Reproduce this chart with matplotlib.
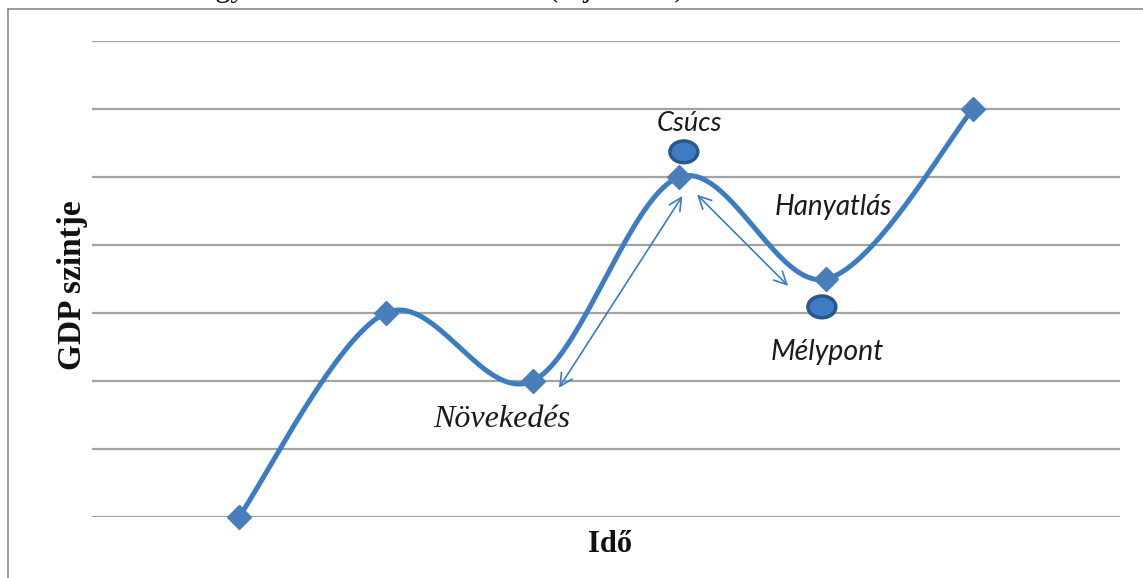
import matplotlib
matplotlib.use("Agg")
import matplotlib.pyplot as plt
from matplotlib.patches import Ellipse
from matplotlib.lines import Line2D
import numpy as np

# ---- data ----
periods = [1, 2, 3, 4, 5, 6]
gdp_level = [0, 3, 2, 5, 3.5, 6]
y_ticks = [0, 1, 2, 3, 4, 5, 6, 7]
x_label = "Idő"
y_label = "GDP szintje"
lbl_peak = "Csúcs"
lbl_decline = "Hanyatlás"
lbl_trough = "Mélypont"
lbl_growth = "Növekedés"

LINE = "#3c7cc2"
MARK = "#4a7ebb"

W, H = 1143, 578
fig = plt.figure(figsize=(W / 100, H / 100), dpi=100)

def fx(px):
    return px / W

def fy(py):
    return 1 - py / H

ax = fig.add_axes([fx(92), fy(517), fx(1120) - fx(92), fy(41) - fy(517)])
ax.set_xlim(0, 7)
ax.set_ylim(0, 7)
ax.set_yticks(y_ticks)
ax.set_xticks([])
ax.yaxis.grid(True, color="#a3a3a3", lw=1.6)
ax.set_axisbelow(True)
ax.tick_params(left=False, labelleft=False)
for s in ax.spines.values():
    s.set_visible(False)

# Excel-style smoothed line (cubic Bezier through the points)
xs = np.array(periods, float)
ys = np.array(gdp_level, float)
n = len(xs)
cx, cy = [], []
t = np.linspace(0, 1, 40)
for i in range(n - 1):
    p0 = np.array([xs[max(i - 1, 0)], ys[max(i - 1, 0)]])
    p1 = np.array([xs[i], ys[i]])
    p2 = np.array([xs[i + 1], ys[i + 1]])
    p3 = np.array([xs[min(i + 2, n - 1)], ys[min(i + 2, n - 1)]])
    c1 = p1 + (p2 - p0) / 6
    c2 = p2 - (p3 - p1) / 6
    b = ((1 - t) ** 3)[:, None] * p1 + (3 * (1 - t) ** 2 * t)[:, None] * c1 \
        + (3 * (1 - t) * t ** 2)[:, None] * c2 + (t ** 3)[:, None] * p2
    cx.extend(b[:, 0]); cy.extend(b[:, 1])
ax.plot(cx, cy, color=LINE, lw=3.6, solid_capstyle="round", clip_on=False, zorder=3)
ax.plot(xs, ys, ls="none", marker="D", ms=12, color=MARK, mec=MARK, clip_on=False, zorder=4)

# annotations
ax.add_patch(Ellipse((4.03, 5.37), 0.19, 0.32, facecolor="#3d7cc3", edgecolor="#28598a",
                     lw=2.5, zorder=5, clip_on=False))
ax.add_patch(Ellipse((4.97, 3.09), 0.19, 0.32, facecolor="#3d7cc3", edgecolor="#28598a",
                     lw=2.5, zorder=5, clip_on=False))
arrow_kw = dict(arrowstyle="<->,head_length=0.9,head_width=0.45", color="#3b7cc4", lw=1.2,
                shrinkA=0, shrinkB=0)
ax.annotate("", xy=(4.02, 4.72), xytext=(3.18, 1.90), arrowprops=arrow_kw, zorder=5)
ax.annotate("", xy=(4.74, 3.40), xytext=(4.12, 4.74), arrowprops=arrow_kw, zorder=5)

sans_it = dict(family=["Lato", "DejaVu Sans"], style="italic", color="#1a1a1a")
ax.text(4.07, 5.79, lbl_peak, ha="center", va="center", fontsize=19.5, **sans_it)
ax.text(5.05, 4.56, lbl_decline, ha="center", va="center", fontsize=20, **sans_it)
ax.text(5.01, 2.43, lbl_trough, ha="center", va="center", fontsize=20.5, **sans_it)
ax.text(2.79, 1.43, lbl_growth, ha="center", va="center", family="Liberation Serif",
        style="italic", fontsize=23, color="#1a1a1a")

# axis titles
fig.text(fx(72), fy(285), y_label, rotation=90, ha="center", va="center",
         family="Liberation Serif", weight="bold", fontsize=24, color="#111111")
fig.text(fx(610), fy(545), x_label, ha="center", va="center",
         family="Liberation Serif", weight="bold", fontsize=22, color="#111111")

# chart border (partially visible)
fig.add_artist(Line2D([fx(8), fx(8)], [fy(9), 0], color="#8a8a8a", lw=1.2))
fig.add_artist(Line2D([fx(8), 1], [fy(9), fy(9)], color="#8a8a8a", lw=1.2))

# cut-off caption above the chart (only descenders visible)
fig.text(fx(78), fy(-4), "A ciklus négy szakasza", ha="left", va="baseline",
         family="Liberation Serif", fontsize=22, color="#111111")
fig.text(fx(548), fy(-4), "(saját ábra)", ha="left", va="baseline",
         family="Liberation Serif", fontsize=22, color="#111111")

fig.savefig("out.png", dpi=100)
